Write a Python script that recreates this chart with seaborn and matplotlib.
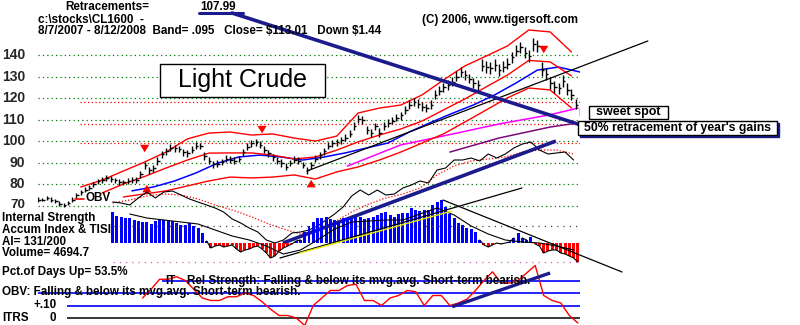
import numpy as np
import matplotlib
matplotlib.use("Agg")
import matplotlib.pyplot as plt
import seaborn as sns
from matplotlib.patches import Rectangle
from matplotlib.lines import Line2D

sns.set_theme(style="white")
plt.rcParams["font.family"] = ["Liberation Sans", "DejaVu Sans"]

# ---------------- data ----------------
# Light crude futures, one bar every other session, 8/7/2007 - 8/12/2008
close = [73, 73, 73.5, 73, 72.5, 71, 70.5, 71.5, 73, 75, 76.5, 77.5, 78.5, 80, 81.5, 82,
         83, 82.5, 82, 81, 81, 81.5, 82, 82, 85, 89, 86.5, 87.5, 91, 94, 95.5, 97,
         97, 96.5, 95, 94.5, 96, 98, 98, 93, 91, 89.5, 89.5, 90.5, 92, 91.5, 91, 92,
         95, 97.5, 99, 99.5, 98.5, 96, 94.5, 92.5, 91, 90, 88, 90, 91.5, 91, 89, 86.5,
         89, 92, 93.5, 95.5, 98, 99, 99.5, 100.5, 101.5, 103.5, 107, 110.5, 110, 105, 104, 107,
         104, 107, 108.5, 109.5, 111, 112, 114.5, 117, 118, 117.5, 116, 115.5, 117, 121.5, 123.5, 125,
         126, 127.5, 130, 132, 130.5, 129, 127, 126, 135, 134.5, 134, 135.5, 133, 134.5, 136, 139,
         142, 143.5, 141, 139.5, 145, 144, 133, 131, 127, 125, 124.5, 128, 124, 121.5, 117, 113.01]
high = [74.0, 73.8, 74.5, 74.0, 73.4, 72.3, 71.5, 72.4, 74.1, 76.0, 77.6, 78.8, 79.6, 81.3, 82.6, 83.5,
        84.4, 83.8, 83.2, 82.4, 82.0, 82.8, 83.3, 83.6, 86.4, 90.5, 88.0, 89.0, 92.6, 95.6, 97.0, 98.8,
        98.4, 97.9, 96.6, 96.0, 97.6, 99.5, 99.4, 95.0, 92.8, 91.0, 91.2, 92.0, 93.5, 93.0, 92.6, 93.4,
        96.6, 99.0, 100.6, 101.0, 100.0, 97.8, 96.0, 94.2, 92.6, 91.6, 89.8, 91.5, 93.0, 92.6, 90.6, 88.2,
        90.5, 93.6, 95.0, 97.0, 99.6, 100.5, 101.2, 102.0, 103.2, 105.2, 108.8, 112.0, 111.6, 107.2, 105.8, 108.6,
        106.0, 108.8, 110.2, 111.2, 112.8, 113.8, 116.4, 119.0, 120.0, 119.4, 118.0, 117.4, 119.0, 123.6, 125.6, 127.2,
        128.4, 129.8, 132.4, 134.4, 133.0, 131.4, 129.4, 128.4, 138.0, 137.2, 136.8, 138.0, 135.8, 137.0, 138.6, 141.6,
        144.8, 146.2, 143.8, 142.2, 147.8, 146.8, 136.8, 133.8, 129.8, 127.8, 127.2, 130.6, 126.8, 124.2, 119.8, 116.0]
low = [72.0, 72.2, 72.6, 72.0, 71.5, 70.2, 69.6, 70.5, 71.8, 73.8, 75.3, 76.4, 77.2, 78.8, 80.2, 80.8,
       81.7, 81.0, 80.5, 79.8, 79.6, 80.2, 80.6, 80.8, 83.2, 87.2, 85.0, 85.8, 89.2, 92.3, 93.8, 95.4,
       95.2, 94.8, 93.4, 92.8, 94.5, 96.4, 96.2, 91.4, 89.4, 87.8, 88.0, 89.0, 90.4, 90.0, 89.5, 90.3,
       93.4, 95.8, 97.4, 97.8, 96.9, 94.4, 92.8, 91.0, 89.5, 88.3, 86.5, 88.4, 89.8, 89.4, 87.5, 85.0,
       87.2, 90.4, 92.0, 93.8, 96.4, 97.3, 98.0, 98.8, 100.0, 101.8, 105.0, 108.4, 108.0, 103.2, 102.2, 105.0,
       102.0, 105.2, 106.6, 107.8, 109.2, 110.0, 112.6, 115.0, 116.2, 115.6, 114.0, 113.5, 115.0, 119.6, 121.4, 123.0,
       124.0, 125.4, 128.0, 129.8, 128.4, 126.8, 124.8, 123.6, 132.4, 131.8, 131.4, 132.8, 130.4, 132.0, 133.4, 136.4,
       139.4, 140.8, 138.4, 136.8, 142.0, 141.2, 130.4, 128.4, 124.4, 122.4, 121.8, 125.2, 121.4, 119.0, 114.8, 111.8]

# Price bands (Band = .095), sampled every 10 sessions from session 20
upper_band = [78.8, 82.0, 86.2, 90.4, 95.0, 101.1, 103.8, 104.3, 102.9, 103.4, 101.5, 100.1,
              102.4, 113.1, 115.4, 116.8, 121.5, 128.4, 134.9, 139.5, 144.2, 151.6, 150.7, 141.4]
mid_band = [np.nan, 76.0, 80.2, 83.7, 87.6, 91.3, 94.5, 94.6, 94.6, 93.6, 91.8, 92.7,
            95.9, 99.7, 102.9, 105.7, 109.4, 114.5, 119.6, 125.2, 130.7, 137.5, 136.8, 130.3]
lower_band = [np.nan, np.nan, 74.2, 75.6, 77.0, 79.3, 81.6, 83.4, 83.0, 83.4, 84.4, 82.5,
              85.8, 88.1, 91.3, 95.0, 99.2, 103.4, 108.9, 114.5, 120.1, 124.7, 123.8, 115.4]
# 50-day average, every 10 sessions from session 44
ma50 = [77.0, 78.8, 81.6, 85.3, 89.8, 92.7, 93.6, 92.7, 91.3, 92.7, 94.6, 96.9,
        99.2, 104.3, 108.7, 112.9, 116.8, 121.5, 127.0, 133.0, 134.4, 132.1]
# long averages
long_ma_days = [145, 170, 193, 216, 240, 253]
long_ma = [88.5, 98.3, 103.1, 108.0, 112.3, 115.4]
longer_ma_days = [193, 216, 240, 253]
longer_ma = [95.0, 101.5, 106.6, 108.5]

grid_levels = [70, 80, 90, 100, 110, 120, 130, 140]
retracement_levels = [118.2, 107.99, 99.0]
retracement = 107.99
sell_days, sell_tips = [50, 105, 237], [93.6, 102.4, 139.5]
buy_days, buy_tips = [51, 128], [81.1, 83.4]
price_trend_days, price_trend = [126, 285.8], [86.2, 146.5]

# On-balance volume (relative units), every 4 sessions from session 35
obv = [4.8, 4.7, 4.5, 5.2, 5.8, 5.2, 5.8, 5.9, 5.5, 5.1, 4.8, 4.5, 4.2, 3.8, 3.1, 2.7, 2.2, 1.8, 1.0,
       0.7, 1.0, 1.7, 1.8, 2.0, 2.4, 3.0, 3.6, 4.3, 5.4, 6.0, 5.5, 6.0, 5.5, 5.6, 6.2, 6.5, 6.9, 6.7,
       8.0, 8.2, 9.0, 9.0, 9.2, 8.9, 9.6, 9.2, 9.6, 10.2, 10.6, 10.8, 10.0, 9.6, 9.7, 9.8, 9.0]
obv_ma = [4.7, 5.0, 5.4, 5.6, 5.5, 5.1, 4.5, 4.0, 3.4, 2.7, 2.1, 1.6, 2.0, 2.8, 3.8, 4.6, 5.2, 5.6,
          6.2, 7.5, 8.4, 8.9, 9.1, 9.3, 9.8, 10.0, 10.0, 9.6]
obv_trend_days, obv_trend = [114.8, 242.7], [0.7, 10.9]

# Accumulation Index, every other session from session 35
accum = [0.31, 0.27, 0.26, 0.25, 0.25, 0.23, 0.22, 0.21, 0.21, 0.19,
         0.22, 0.24, 0.23, 0.23, 0.22, 0.20, 0.18, 0.18, 0.20, 0.17,
         0.15, 0.10, 0.02, -0.05, -0.03, -0.02, -0.04, -0.03, -0.02, -0.06,
         -0.09, -0.07, -0.06, -0.04, -0.03, -0.06, -0.10, -0.15, -0.13, -0.08,
         -0.05, -0.03, -0.01, 0.02, 0.03, 0.11, 0.17, 0.21, 0.25, 0.25,
         0.26, 0.24, 0.23, 0.21, 0.25, 0.25, 0.25, 0.26, 0.26, 0.24,
         0.25, 0.26, 0.28, 0.30, 0.31, 0.28, 0.26, 0.29, 0.30, 0.30,
         0.35, 0.33, 0.32, 0.33, 0.33, 0.38, 0.41, 0.43, 0.36, 0.29,
         0.25, 0.20, 0.18, 0.15, 0.14, 0.11, 0.03, -0.02, -0.04, -0.02,
         0.00, -0.01, 0.00, 0.01, 0.05, 0.10, 0.05, 0.03, 0.06, -0.01,
         -0.03, -0.10, -0.08, -0.07, -0.07, -0.10, -0.11, -0.13, -0.15, -0.19]
# TISI, every 8 sessions from session 43
tisi = [0.29, 0.25, 0.23, 0.21, 0.19, 0.13, 0.07, 0.03, -0.03, -0.11, -0.07, 0.03, 0.14, 0.21,
        0.22, 0.23, 0.23, 0.29, 0.35, 0.28, 0.17, 0.09, 0.03, 0.01, 0.00, -0.03, -0.07]
ai_up_days, ai_up = [113.4, 226.8], [-0.15, 0.55]
ai_yel_days, ai_yel = [122.8, 194.0], [-0.10, 0.32]
ai_down_days, ai_down = [189.8, 273.7], [0.43, -0.29]

# Intermediate-term relative strength, every 4 sessions from session 49
itrs = [0.16, 0.23, 0.31, 0.31, 0.33, 0.30, 0.23, 0.16, 0.14, 0.14, 0.17, 0.17, 0.20,
        0.18, 0.13, 0.07, 0.02, 0.02, 0.00, -0.06, 0.10, 0.16, 0.22, 0.22, 0.26, 0.27,
        0.14, 0.14, 0.10, 0.16, 0.18, 0.22, 0.21, 0.10, 0.18, 0.18, 0.10, 0.12, 0.15,
        0.22, 0.30, 0.37, 0.28, 0.28, 0.30, 0.36, 0.42, 0.18, 0.14, 0.12, 0.02, -0.04]
itrs_trend_days, itrs_trend = [194.1, 240.0], [0.09, 0.36]

# ---------------- layout helpers ----------------
W, H = 800, 325
NAVY = "#1b1b8e"
BLUE = "#0000ff"
RED = "#ff0000"
FS = 8.4

fig = plt.figure(figsize=(8, 3.25), dpi=100, facecolor="white")


def pane(x0, y0, x1, y1, ylim):
    ax = fig.add_axes([x0 / W, 1 - y1 / H, (x1 - x0) / W, (y1 - y0) / H])
    ax.set_xlim(0, 254)
    ax.set_ylim(*ylim)
    ax.set_axis_off()
    return ax


def label(x, y, s, size=FS, weight="bold", **kw):
    return fig.text(x / W, 1 - y / H, s, fontsize=size, fontweight=weight,
                    va="center", ha=kw.pop("ha", "left"), color=kw.pop("color", "black"), **kw)


def box(x0, y0, x1, y1, **kw):
    r = Rectangle((x0 / W, 1 - y1 / H), (x1 - x0) / W, (y1 - y0) / H,
                  transform=fig.transFigure, **kw)
    fig.patches.append(r)


bar_days = np.arange(0, 2 * len(close), 2)
band_days = np.arange(20, 20 + 10 * len(upper_band), 10)
ma50_days = np.arange(44, 44 + 10 * len(ma50), 10)
obv_days = np.arange(35, 35 + 4 * len(obv), 4)
obv_ma_days = np.arange(35, 35 + 8 * len(obv_ma), 8)
ai_days = np.arange(35, 35 + 2 * len(accum), 2)
tisi_days = np.arange(43, 43 + 8 * len(tisi), 8)
itrs_days = np.arange(49, 49 + 4 * len(itrs), 4)

# ---------------- price pane ----------------
px = pane(38, 22, 580, 215, (65.82, 155.30))
px.hlines(grid_levels, 0, 254, colors="#008000", linestyles=(0, (1, 2.5)), lw=0.9)
px.hlines(retracement_levels, 19.7, 254, colors=RED, linestyles=(0, (1, 2)), lw=0.9)
for lv in grid_levels:
    px.text(-0.024, lv + (0.25 if lv == grid_levels[0] else 0), str(lv),
            transform=px.get_yaxis_transform(), ha="right",
            va="center", fontsize=10 if lv != grid_levels[0] else 9.5, fontweight="bold")

sns.lineplot(x=long_ma_days, y=long_ma, ax=px, color="#ff00ff", lw=1.1, legend=False)
sns.lineplot(x=longer_ma_days, y=longer_ma, ax=px, color="#7a0a7a", lw=1.1, legend=False)
sns.lineplot(x=ma50_days, y=ma50, ax=px, color=BLUE, lw=1.1, legend=False)
for band in (upper_band, mid_band, lower_band):
    sns.lineplot(x=band_days, y=band, ax=px, color=RED, lw=1.0, legend=False)
px.plot(price_trend_days, price_trend, color="black", lw=0.9, clip_on=False)

px.vlines(bar_days, low, high, colors="black", lw=1.0)
px.hlines(close, bar_days, bar_days + 1.2, colors="black", lw=1.0)

arrow = dict(arrowstyle="simple,head_length=0.45,head_width=0.55,tail_width=0.25",
             color=RED, lw=0)
for d, tip in zip(sell_days, sell_tips):
    px.annotate("", xy=(d, tip), xytext=(d, tip + 3.8), arrowprops=arrow)
for d, tip in zip(buy_days, buy_tips):
    px.annotate("", xy=(d, tip), xytext=(d, tip - 3.8), arrowprops=arrow)

# connector from the retracement readout to the 50% level
px.annotate("", xy=(bar_days[-1] - 1, retracement), xycoords="data",
            xytext=(232 / W, 1 - 13 / H), textcoords="figure fraction",
            arrowprops=dict(arrowstyle="-", color=NAVY, lw=2.6, shrinkA=0, shrinkB=0))

# ---------------- OBV overlay ----------------
ob = pane(38, 130, 580, 262, (-1.2, 12.0))
sns.lineplot(x=obv_ma_days, y=obv_ma, ax=ob, color=RED, lw=0.9, linestyle=(0, (1, 1.5)), legend=False)
sns.lineplot(x=obv_days, y=obv, ax=ob, color="black", lw=0.8, legend=False)

# ---------------- Accumulation index ----------------
ai = pane(38, 195, 580, 270, (-0.27, 0.48))
accum_arr = np.array(accum)
ai.hlines([0.17], 35, 254, colors="#444444", linestyles=(0, (1, 4)), lw=0.9)
ai.hlines([-0.19], 35, 254, colors="#cc66aa", linestyles=(0, (1, 4)), lw=0.9)
ai.bar(ai_days, accum_arr, width=1.4, color=np.where(accum_arr >= 0, BLUE, RED), linewidth=0)
ai.plot(ai_days, np.where(accum_arr < 0.06, accum_arr, np.nan), color="black", lw=0.8)
sns.lineplot(x=tisi_days, y=tisi, ax=ai, color="black", lw=0.8, legend=False)
ai.plot(ai_up_days, ai_up, color="black", lw=0.9, clip_on=False)
ai.plot(ai_yel_days, ai_yel, color="#e8e800", lw=1.0, clip_on=False)
ai.plot(ai_down_days, ai_down, color="black", lw=0.9, clip_on=False)

ob.plot(obv_trend_days, obv_trend, color=NAVY, lw=2.6, clip_on=False, solid_capstyle="butt")

# ---------------- ITRS ----------------
it = pane(38, 258, 580, 325, (-0.056, 0.48))
it.hlines(0.0, 13.6, 254, colors="black", lw=1.1)
it.hlines(0.1, 13.6, 254, colors=BLUE, lw=1.2)
it.hlines(0.2, 0, 254, colors=BLUE, lw=1.2)
it.hlines(0.3, 58, 254, colors=BLUE, lw=1.2)
sns.lineplot(x=itrs_days, y=itrs, ax=it, color=RED, lw=1.0, legend=False)
it.plot(itrs_trend_days, itrs_trend, color=NAVY, lw=2.4, solid_capstyle="butt")

# ---------------- header and labels ----------------
label(65, 7, "Retracements=")
label(200, 7, "107.99")
fig.add_artist(Line2D([199 / W, 243 / W], [1 - 12.5 / H] * 2, transform=fig.transFigure,
                      color=NAVY, lw=2.2))
label(38, 20, "c:\\stocks\\CL1600  -")
label(38, 31, "8/7/2007 - 8/12/2008  Band= .095   Close= \\$113.01   Down \\$1.44")
label(422, 20, "(C) 2006, www.tigersoft.com")

box(160, 64, 325, 97, facecolor="white", edgecolor="black", lw=1.0, zorder=1)
label(242, 80.5, "Light Crude", size=18, weight="normal", ha="center")

fig.add_artist(Line2D([75 / W, 84 / W], [1 - 199 / H] * 2, transform=fig.transFigure, color=RED, lw=1.2))
label(86, 198, "OBV")

box(589, 106, 668, 119, facecolor="white", edgecolor="black", lw=1.0, zorder=1)
label(628.5, 112.5, "sweet spot", ha="center", size=9)
box(580, 123, 779, 137, facecolor=NAVY, edgecolor=NAVY, lw=1.0, zorder=1)
box(578, 121, 777, 135, facecolor="white", edgecolor="black", lw=1.0, zorder=1)
label(677, 128, "50% retracement of year's gains", ha="center", size=8.8)

label(2, 218.5, "Internal Strength")
label(2, 230, "Accum Index & TISI")
label(2, 242, "AI= 131/200")
label(2, 253.5, "Volume= 4694.7")
label(2, 272, "Pct.of Days Up= 53.5%")
label(2, 292, "OBV: Falling & below its mvg.avg. Short-term bearish.")
label(33, 305, "+.10")
label(2, 318, "ITRS")
label(50, 318, "0")
label(165, 281, "IT")
label(187, 281, "Rel Strength: Falling & below its mvg.avg. Short-term bearish.")

fig.savefig("out.png", dpi=100, facecolor="white")
